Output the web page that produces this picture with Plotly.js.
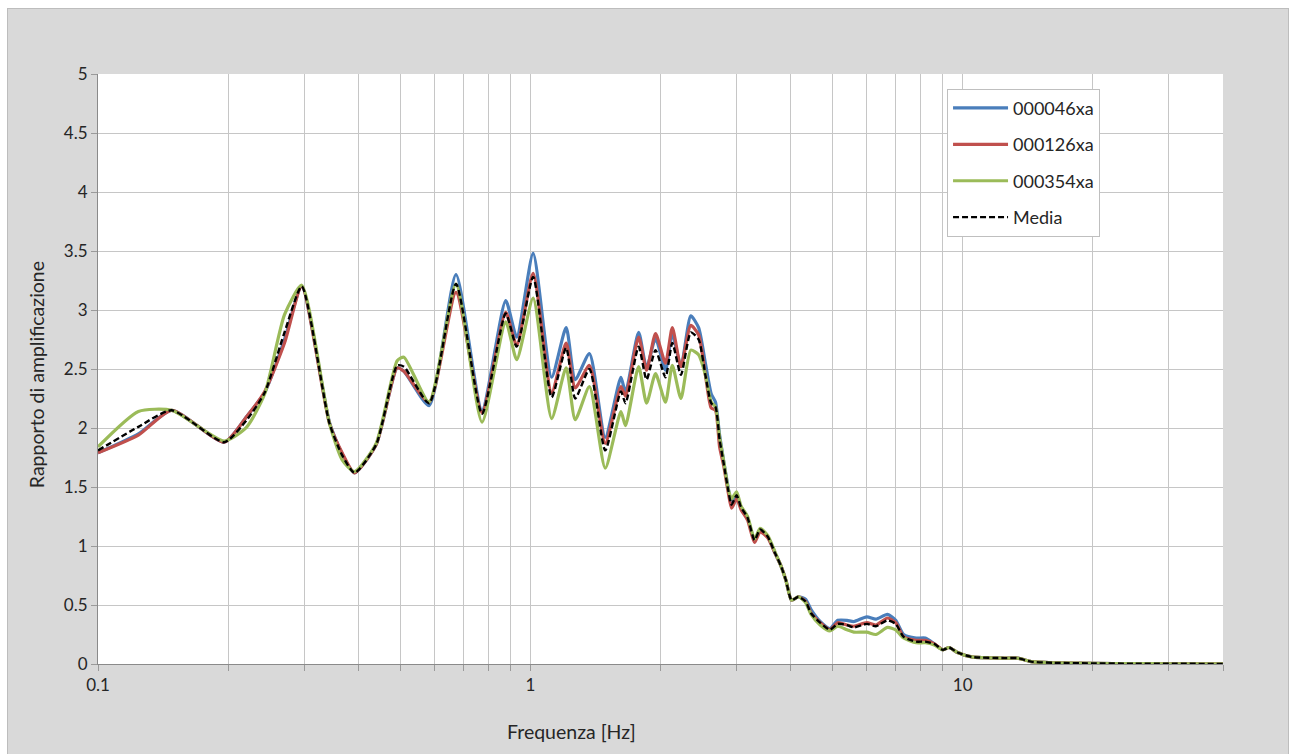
<!DOCTYPE html>
<html>
<head>
<meta charset="utf-8">
<script src="https://cdn.plot.ly/plotly-3.0.1.min.js"></script>
<style>
  html, body { margin: 0; padding: 0; background: #ffffff; overflow: hidden; }
  #frame { position: absolute; left: 7px; top: 8px; width: 1282px; height: 750px;
           border: 1px solid #bdbdbd; background: #d9d9d9; box-sizing: border-box; }
  #chart { position: absolute; left: 0; top: 0; width: 1280px; height: 748px; }
</style>
</head>
<body>
<div id="frame"><div id="chart"></div></div>
<script>
// Frequencies [Hz]
const freq = [0.1, 0.124, 0.148, 0.196, 0.221, 0.243, 0.270, 0.296, 0.343, 0.367, 0.392, 0.44,
  0.492, 0.51, 0.583, 0.673, 0.773, 0.877, 0.93, 1.015, 1.12, 1.21, 1.27, 1.37, 1.49, 1.62, 1.66,
  1.78, 1.857, 1.948, 2.054, 2.13, 2.23, 2.35, 2.45, 2.54, 2.62, 2.68, 2.74, 2.80, 2.87, 2.92,
  3.0, 3.07, 3.18, 3.3, 3.4, 3.54, 3.68, 3.8, 3.9, 4.02, 4.17, 4.33, 4.46, 4.68, 4.93, 5.14,
  5.4, 5.6, 6.0, 6.3, 6.7, 7.0, 7.3, 7.8, 8.2, 8.6, 9.0, 9.3, 9.7, 10.5, 12.5, 13.4, 14.4,
  16.3, 20, 25, 30, 40];

const s000046xa = [1.79, 1.95, 2.15, 1.88, 2.10, 2.30, 2.75, 3.20, 2.05, 1.78, 1.62, 1.86,
  2.51, 2.48, 2.19, 3.30, 2.15, 3.08, 2.77, 3.48, 2.43, 2.85, 2.41, 2.63, 1.92, 2.43, 2.30,
  2.81, 2.51, 2.76, 2.49, 2.80, 2.52, 2.95, 2.85, 2.55, 2.29, 2.22, 1.94, 1.72, 1.49, 1.35,
  1.43, 1.33, 1.24, 1.05, 1.14, 1.08, 0.94, 0.83, 0.71, 0.54, 0.57, 0.55, 0.46, 0.36, 0.30, 0.37,
  0.37, 0.36, 0.40, 0.38, 0.42, 0.37, 0.25, 0.22, 0.22, 0.17, 0.12, 0.14, 0.10, 0.06, 0.05, 0.05, 0.02,
  0.01, 0.005, 0.003, 0.002, 0.001];

const s000126xa = [1.79, 1.94, 2.15, 1.88, 2.10, 2.31, 2.72, 3.20, 2.04, 1.79, 1.62, 1.86,
  2.51, 2.48, 2.22, 3.15, 2.13, 2.98, 2.70, 3.31, 2.30, 2.72, 2.34, 2.53, 1.87, 2.35, 2.27,
  2.77, 2.49, 2.80, 2.55, 2.85, 2.52, 2.87, 2.79, 2.45, 2.17, 2.15, 1.84, 1.68, 1.45, 1.32,
  1.40, 1.31, 1.22, 1.03, 1.12, 1.07, 0.94, 0.83, 0.71, 0.54, 0.57, 0.53, 0.43, 0.35, 0.29, 0.35,
  0.33, 0.32, 0.35, 0.33, 0.39, 0.35, 0.23, 0.20, 0.20, 0.17, 0.12, 0.14, 0.10, 0.06, 0.05, 0.05, 0.02,
  0.01, 0.005, 0.003, 0.002, 0.001];

const s000354xa = [1.84, 2.14, 2.15, 1.89, 2.01, 2.29, 2.96, 3.21, 2.04, 1.73, 1.63, 1.87,
  2.57, 2.60, 2.22, 3.22, 2.05, 2.90, 2.58, 3.10, 2.08, 2.51, 2.07, 2.35, 1.66, 2.14, 2.02,
  2.52, 2.21, 2.46, 2.22, 2.53, 2.25, 2.66, 2.62, 2.45, 2.22, 2.18, 1.92, 1.72, 1.48, 1.40,
  1.46, 1.34, 1.25, 1.06, 1.15, 1.09, 0.95, 0.83, 0.71, 0.54, 0.57, 0.52, 0.42, 0.33, 0.28, 0.32,
  0.29, 0.27, 0.27, 0.25, 0.31, 0.29, 0.22, 0.18, 0.18, 0.16, 0.12, 0.14, 0.10, 0.06, 0.05, 0.05, 0.02,
  0.01, 0.005, 0.003, 0.002, 0.001];

const media = [1.81, 2.01, 2.15, 1.88, 2.07, 2.30, 2.81, 3.20, 2.04, 1.77, 1.62, 1.86,
  2.53, 2.52, 2.21, 3.22, 2.12, 2.97, 2.69, 3.28, 2.26, 2.68, 2.25, 2.50, 1.81, 2.31, 2.21,
  2.69, 2.41, 2.66, 2.43, 2.72, 2.45, 2.81, 2.75, 2.45, 2.21, 2.18, 1.90, 1.70, 1.47, 1.35,
  1.43, 1.33, 1.24, 1.05, 1.14, 1.08, 0.94, 0.83, 0.71, 0.54, 0.57, 0.53, 0.43, 0.35, 0.29, 0.34,
  0.33, 0.31, 0.34, 0.32, 0.37, 0.34, 0.23, 0.19, 0.19, 0.17, 0.12, 0.14, 0.10, 0.06, 0.05, 0.05, 0.02,
  0.01, 0.005, 0.003, 0.002, 0.001];

const seriesNames = ["000046xa", "000126xa", "000354xa", "Media"];
const xTickVals = [0.1, 1, 10];
const xTickText = ["0.1", "1", "10"];
const xMinorVals = [0.2, 0.3, 0.4, 0.5, 0.6, 0.7, 0.8, 0.9, 2, 3, 4, 5, 6, 7, 8, 9, 20, 30, 40];

const FONT = "Lato, 'Open Sans', sans-serif";

function tr(y, name, color, width, dash) {
  return {
    x: freq, y: y, name: name, type: "scatter", mode: "lines",
    legendgroup: name,
    line: { color: color, width: width, dash: dash, shape: "spline", smoothing: 0.6 }
  };
}

const data = [
  tr(s000046xa, seriesNames[0], "#4a7ebb", 3.2, "solid"),
  tr(s000126xa, seriesNames[1], "#c0504d", 3.2, "solid"),
  tr(s000354xa, seriesNames[2], "#9bbb59", 3.2, "solid"),
  tr(media, seriesNames[3], "#000000", 2.4, "6px,3px")
];

const layout = {
  width: 1280, height: 748,
  margin: { l: 90, r: 65, t: 65, b: 93 },
  paper_bgcolor: "#d9d9d9",
  plot_bgcolor: "#ffffff",
  font: { family: FONT, size: 17, color: "#262626" },
  showlegend: true,
  legend: {
    x: 0.7547, y: 0.975, xanchor: "left", yanchor: "top",
    bgcolor: "#ffffff", bordercolor: "#bfbfbf", borderwidth: 1,
    font: { family: FONT, size: 18, color: "#262626" },
    traceorder: "grouped", tracegroupgap: 10, itemwidth: 55
  },
  xaxis: {
    type: "log",
    range: [-1, Math.log10(40)],
    tickmode: "array", tickvals: xTickVals, ticktext: xTickText,
    showgrid: true, gridcolor: "#c6c6c6", gridwidth: 1,
    ticks: "outside", ticklen: 6, tickcolor: "#9a9a9a",
    showline: true, linecolor: "#8a8a8a", linewidth: 1,
    zeroline: false,
    tickfont: { family: FONT, size: 17, color: "#262626" },
    minor: { tickmode: "array", tickvals: xMinorVals, showgrid: true, gridcolor: "#c6c6c6",
             ticks: "outside", ticklen: 6, tickcolor: "#9a9a9a" }
  },
  yaxis: {
    range: [0, 5], dtick: 0.5, tick0: 0,
    showgrid: true, gridcolor: "#c6c6c6", gridwidth: 1,
    ticks: "outside", ticklen: 6, tickcolor: "#9a9a9a",
    showline: true, linecolor: "#8a8a8a", linewidth: 1,
    zeroline: false,
    tickfont: { family: FONT, size: 17, color: "#262626" }
  },
  annotations: [
    { text: "Frequenza [Hz]", xref: "paper", yref: "paper", x: 0.421, y: -0.114,
      xanchor: "center", yanchor: "middle", showarrow: false,
      font: { family: FONT, size: 19.5, color: "#262626" } },
    { text: "Rapporto di amplificazione", xref: "paper", yref: "paper", x: -0.054, y: 0.49,
      xanchor: "center", yanchor: "middle", showarrow: false, textangle: -90,
      font: { family: FONT, size: 19.5, color: "#262626" } }
  ]
};

Plotly.newPlot("chart", data, layout, { displayModeBar: false, staticPlot: true });
</script>
</body>
</html>
